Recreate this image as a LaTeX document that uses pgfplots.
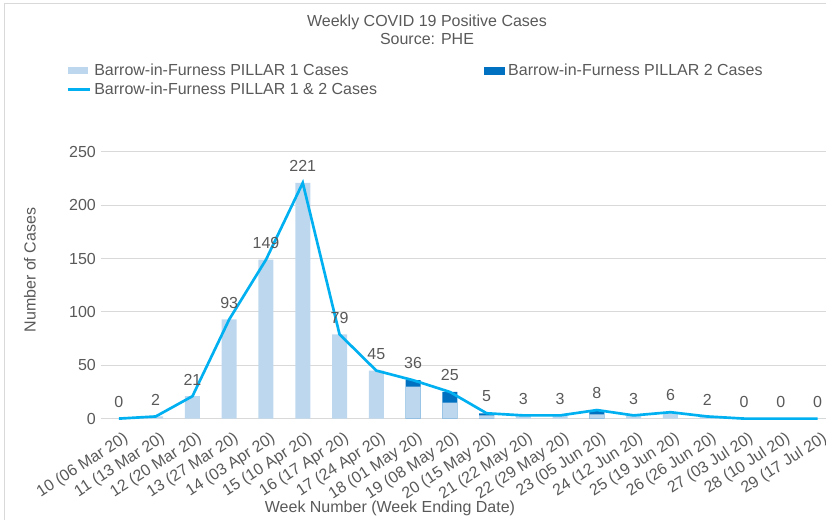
\documentclass[border=0pt]{standalone}
\usepackage{pgfplots}
\pgfplotsset{compat=1.18}
\usepackage{fontspec}
\setmainfont{Liberation Sans}
\definecolor{txt}{HTML}{595959}
\definecolor{gridc}{HTML}{D9D9D9}
\definecolor{pone}{HTML}{BDD7EE}
\definecolor{ptwo}{HTML}{0070C0}
\definecolor{lineb}{HTML}{00B0F0}
\begin{document}
\begin{tikzpicture}[font=\fontsize{12}{14}\selectfont, text=txt]
\useasboundingbox (0,0) rectangle (619.5pt,-390pt);
\draw[gridc, line width=0.75pt] (3pt,-420pt) -- (3pt,-3pt) -- (660pt,-3pt);
\node[align=center, font=\fontsize{12}{13.5}\selectfont] at (320.25pt,-22pt) {Weekly COVID 19 Positive Cases\\Source: PHE};
\begin{axis}[
  at={(75.4pt,-313.95pt)}, anchor=south west,
  scale only axis, width=544.1pt, height=200pt,
  xmin=-0.5, xmax=19.23, ymin=0, ymax=250,
  clip=false,
  ytick={0,50,...,250},
  ymajorgrids, grid style={gridc, line width=0.75pt},
  axis line style={draw=none}, tick style={draw=none},
  xtick={0,...,19},
  xticklabels={10 (06 Mar 20),11 (13 Mar 20),12 (20 Mar 20),13 (27 Mar 20),14 (03 Apr 20),15 (10 Apr 20),16 (17 Apr 20),17 (24 Apr 20),18 (01 May 20),19 (08 May 20),20 (15 May 20),21 (22 May 20),22 (29 May 20),23 (05 Jun 20),24 (12 Jun 20),25 (19 Jun 20),26 (26 Jun 20),27 (03 Jul 20),28 (10 Jul 20),29 (17 Jul 20)},
  xticklabel style={rotate=33, anchor=north east, inner sep=1pt, yshift=-8pt, xshift=-1.5pt, font=\fontsize{12}{14}\selectfont, text=txt},
  yticklabel style={font=\fontsize{12}{14}\selectfont, text=txt},
  /pgf/number format/assume math mode=true,
  xlabel={Week Number (Week Ending Date)},
  xlabel style={at={(axis description cs:0.399,-0.335)}, anchor=center, text=txt},
  ylabel={Number of Cases},
  ylabel style={at={(axis description cs:-0.0972,0.557)}, anchor=center, text=txt},
  legend columns=2,
  legend cell align=left,
  legend style={draw=none, fill=none, at={(-0.0531,1.3525)}, anchor=north west,
    font=\fontsize{12}{14}\selectfont, text=txt,
    nodes={inner xsep=2.5pt},
    /tikz/every even column/.append style={column sep=78pt}},
]
\addplot[ybar, bar width=11.25pt, bar shift=0pt, fill=ptwo, draw=none, forget plot]
  coordinates {(8,36) (9,25) (10,5) (13,8)};
\addplot[ybar, bar width=11.25pt, bar shift=0pt, fill=pone, draw=none,
  legend image code/.code={\fill[pone] (0pt,-2.6pt) rectangle (15pt,2.6pt);}]
  coordinates {(0,0) (1,2) (2,21) (3,93) (4,149) (5,221) (6,79) (7,45) (8,30) (9,15) (10,3) (11,3) (12,3) (13,4) (14,3) (15,6) (16,2) (17,0) (18,0) (19,0)};
\addlegendentry{Barrow-in-Furness PILLAR 1 Cases}
\addlegendimage{legend image code/.code={\fill[ptwo] (0pt,-2.6pt) rectangle (15pt,2.6pt);}}
\addlegendentry{Barrow-in-Furness PILLAR 2 Cases}
\addplot[lineb, line width=2pt, mark=none,
  nodes near coords, every node near coord/.append style={anchor=south, yshift=4pt, text=txt, font=\fontsize{12}{14}\selectfont},
  legend image code/.code={\draw[lineb, line width=2pt] (0pt,0pt) -- (16.5pt,0pt);}]
  coordinates {(0,0) (1,2) (2,21) (3,93) (4,149) (5,221) (6,79) (7,45) (8,36) (9,25) (10,5) (11,3) (12,3) (13,8) (14,3) (15,6) (16,2) (17,0) (18,0) (19,0)};
\addlegendentry{Barrow-in-Furness PILLAR 1 \& 2 Cases}
\end{axis}
\end{tikzpicture}
\end{document}
